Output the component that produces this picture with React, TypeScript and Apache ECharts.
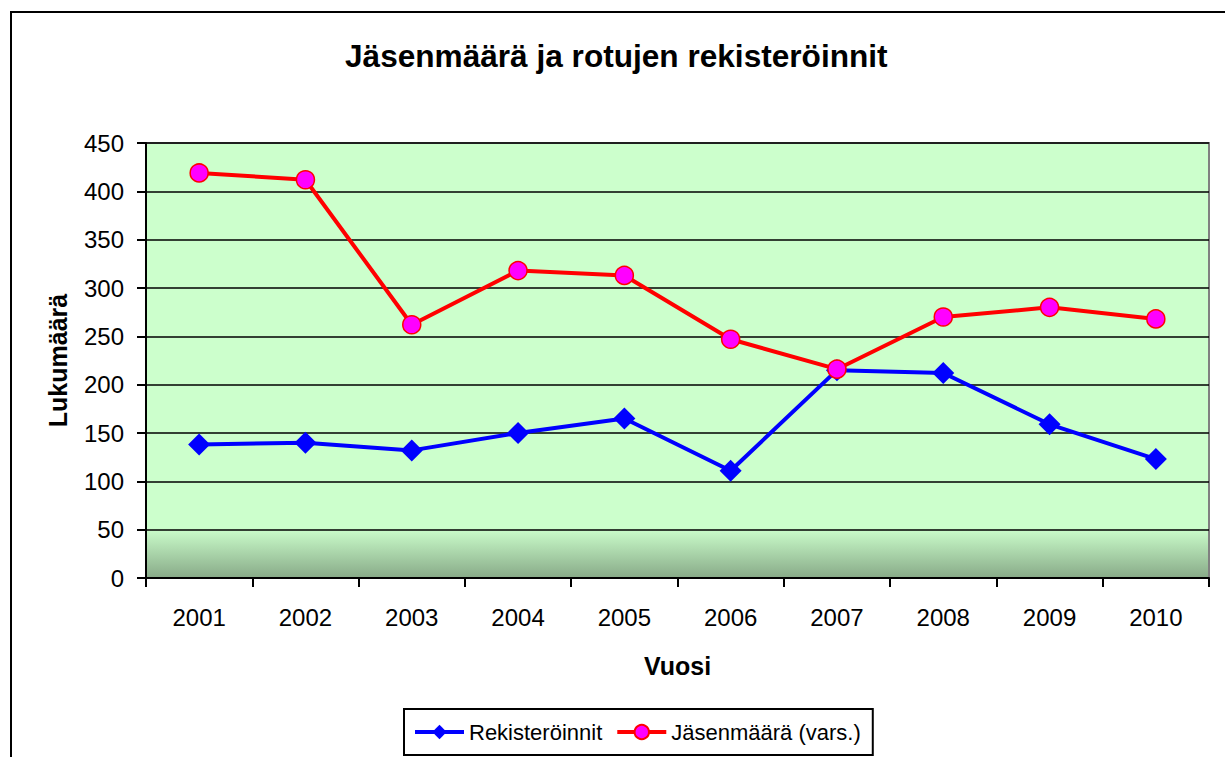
import React, { useEffect, useRef } from "react";
import * as echarts from "echarts";

const years = ["2001", "2002", "2003", "2004", "2005", "2006", "2007", "2008", "2009", "2010"];
const rekisteroinnit = [138, 140, 132, 150, 165, 111, 215, 212, 159, 123];
const jasenmaara = [419, 412, 262, 318, 313, 247, 216, 270, 280, 268];

const FONT = "'Liberation Sans', Arial, sans-serif";

export default function App() {
  const ref = useRef<HTMLDivElement>(null);
  useEffect(() => {
    document.body.style.margin = "0";
    const chart = echarts.init(ref.current!, null, { renderer: "svg" });
    chart.setOption({
      animation: false,
      backgroundColor: "#ffffff",
      textStyle: { fontFamily: FONT },
      title: {
        text: "Jäsenmäärä ja rotujen rekisteröinnit",
        left: 345,
        top: 40,
        padding: 0,
        textStyle: { fontFamily: FONT, fontSize: 31.6, fontWeight: "bold", color: "#000" },
      },
      graphic: [
        {
          type: "rect",
          shape: { x: 11, y: 12, width: 1240, height: 800 },
          style: { fill: "none", stroke: "#000", lineWidth: 2 },
          silent: true,
          z: -1,
        },
      ],
      legend: {
        left: 404,
        top: 709,
        padding: [12, 12, 12, 9],
        borderColor: "#000",
        borderWidth: 2,
        itemWidth: 49,
        itemHeight: 18,
        itemGap: 13,
        lineStyle: { width: 4 },
        textStyle: { fontFamily: FONT, fontSize: 22, color: "#000" },
        data: ["Rekisteröinnit", "Jäsenmäärä (vars.)"],
      },
      grid: {
        left: 146,
        right: 16,
        top: 143,
        bottom: 179,
        show: true,
        borderColor: "#808080",
        borderWidth: 2,
        backgroundColor: new echarts.graphic.LinearGradient(0, 0, 0, 1, [
          { offset: 0, color: "#ccffcc" },
          { offset: 0.885, color: "#ccffcc" },
          { offset: 1, color: "#88aa88" },
        ]),
      },
      xAxis: {
        type: "category",
        data: years,
        boundaryGap: true,
        name: "Vuosi",
        nameLocation: "middle",
        nameGap: 75,
        nameTextStyle: { fontFamily: FONT, fontSize: 25, fontWeight: "bold", color: "#000" },
        axisLine: { lineStyle: { color: "#000", width: 2 } },
        axisTick: { show: true, length: 9, lineStyle: { color: "#000", width: 2 } },
        axisLabel: { margin: 27, fontFamily: FONT, fontSize: 24, color: "#000" },
        splitLine: { show: false },
      },
      yAxis: {
        type: "value",
        min: 0,
        max: 450,
        interval: 50,
        name: "Lukumäärä",
        nameLocation: "middle",
        nameGap: 76,
        nameTextStyle: { fontFamily: FONT, fontSize: 25, fontWeight: "bold", color: "#000" },
        axisLine: { show: true, lineStyle: { color: "#000", width: 2 } },
        axisTick: { show: true, length: 9, lineStyle: { color: "#000", width: 2 } },
        axisLabel: { margin: 22, fontFamily: FONT, fontSize: 24, color: "#000" },
        splitLine: { show: true, lineStyle: { color: "#000", width: 1.6 } },
      },
      series: [
        {
          name: "Rekisteröinnit",
          type: "line",
          data: rekisteroinnit,
          symbol: "diamond",
          symbolSize: 22,
          lineStyle: { color: "#0000ff", width: 4 },
          itemStyle: { color: "#0000ff" },
          z: 2,
        },
        {
          name: "Jäsenmäärä (vars.)",
          type: "line",
          data: jasenmaara,
          symbol: "circle",
          symbolSize: 18,
          lineStyle: { color: "#ff0000", width: 4 },
          itemStyle: { color: "#ff00ff", borderColor: "#ff0000", borderWidth: 1.5 },
          z: 3,
        },
      ],
    });
    return () => chart.dispose();
  }, []);
  return <div ref={ref} style={{ width: 1225, height: 757 }} />;
}
